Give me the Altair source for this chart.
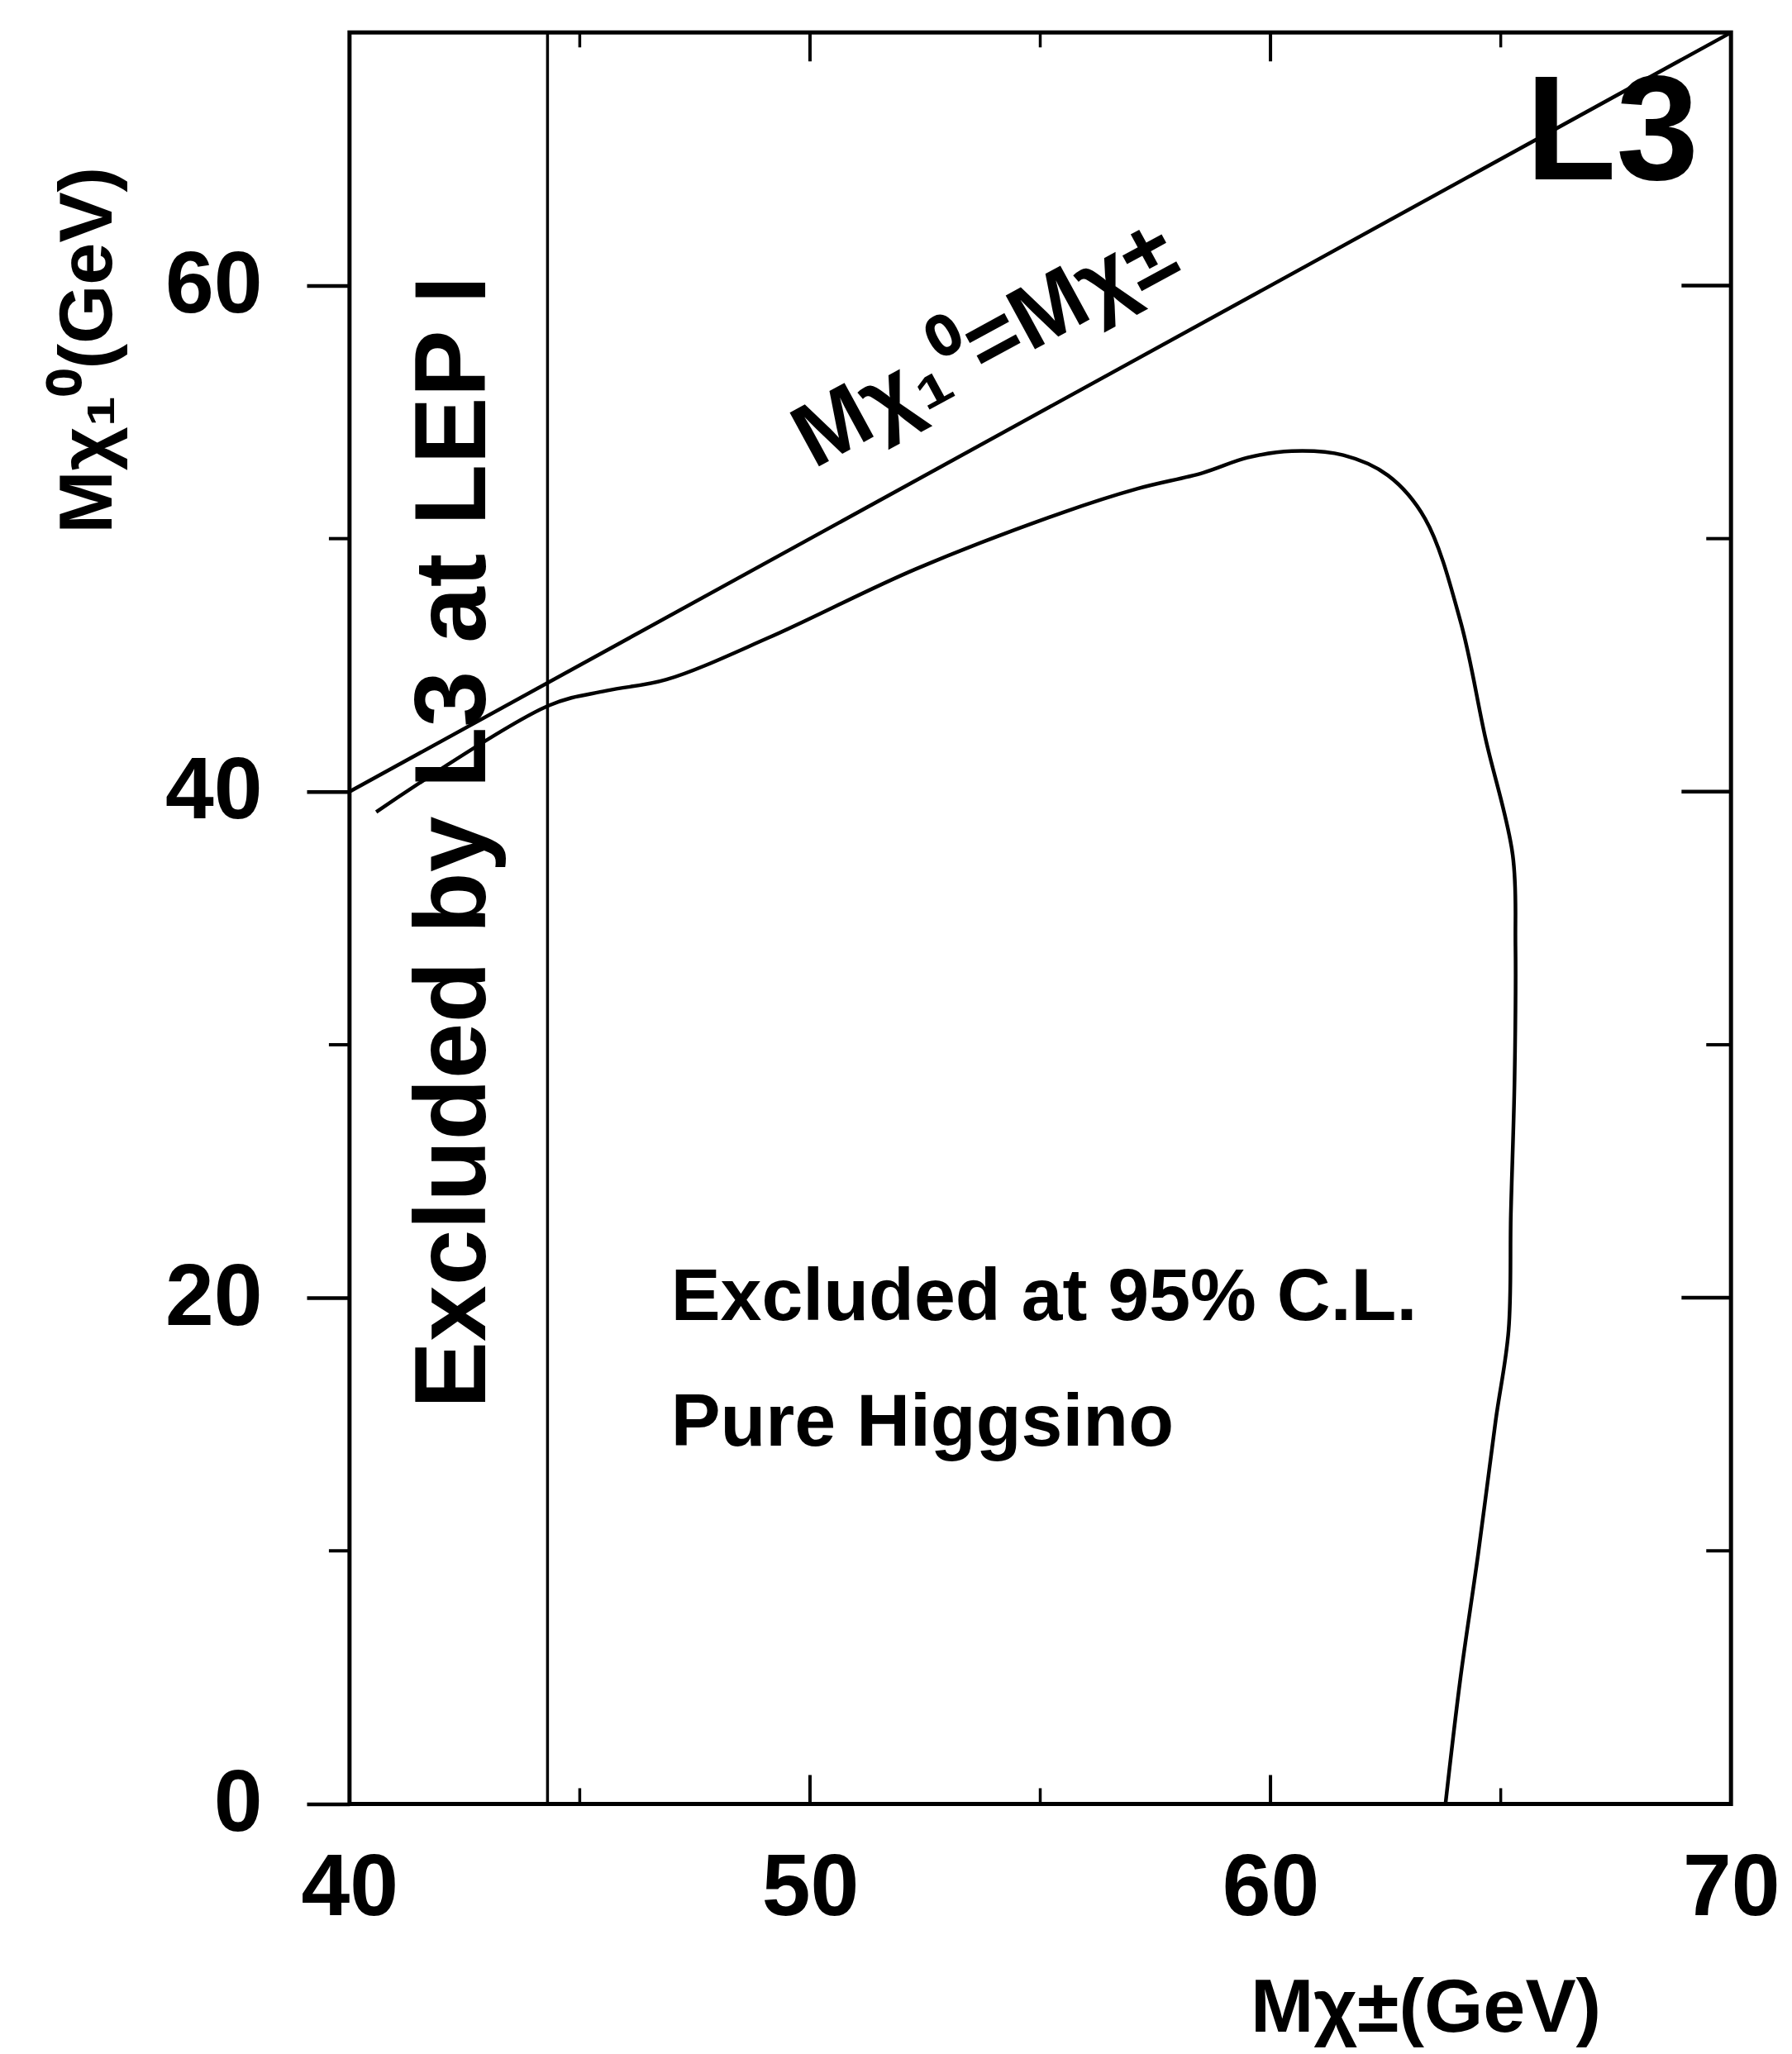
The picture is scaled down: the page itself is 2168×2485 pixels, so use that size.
import altair as alt
import pandas as pd

# ---- data ----
contour_x = [40.58, 44.32, 45.58, 46.88, 49.12, 52.3, 55.5, 57.1, 58.53, 59.5, 60.46,
             61.58, 62.55, 63.36, 64.13, 64.67, 65.26, 65.32, 65.3, 65.22, 65.17,
             64.89, 64.51, 64.12, 63.8]
contour_y = [39.2, 43.4, 43.99, 44.43, 46.1, 48.8, 51.04, 51.97, 52.6, 53.2, 53.46,
             53.3, 52.5, 50.78, 46.7, 42.1, 37.5, 33.9, 28.6, 23.3, 18.7,
             15.15, 9.88, 4.9, 0.0]
diag_x = [40, 70]
diag_y = [40, 70]
lep1_limit = [44.3]

x_labels = [40, 50, 60, 70]
y_labels = [0, 20, 40, 60]
x_major_inner = [50, 60]
x_minor_inner = [45, 55, 65]
y_major_inner = [20, 40, 60]
y_minor = [10, 30, 50]

W, H = 1676, 2149
FONT = "Liberation Sans"
XS = alt.Scale(domain=[40, 70], nice=False, zero=False)
YS = alt.Scale(domain=[0, 70], nice=False, zero=False)

X_AXIS = alt.Axis(
    values=x_labels, ticks=False, tickSize=0, labelPadding=50, labelFontSize=106,
    labelFont=FONT, labelFontWeight="bold", labelColor="black", labelFlush=False,
    labelOverlap=False, domain=False, grid=False,
    title="Mχ±(GeV)", titleFont=FONT, titleFontSize=92, titleFontWeight="bold",
    titleColor="black", titleX=1518, titleY=276, titleAlign="right",
    titleBaseline="alphabetic", titleAngle=0)
Y_AXIS = alt.Axis(
    values=y_labels, tickSize=52, tickWidth=4.5, tickColor="black", labelPadding=54,
    labelFontSize=106, labelFont=FONT, labelFontWeight="bold", labelColor="black",
    labelFlush=False, labelOverlap=False, domain=False, grid=False,
    title="Mχ₁⁰(GeV)", titleFont=FONT, titleFontSize=92, titleFontWeight="bold",
    titleColor="black", titleAngle=270, titleX=-289, titleY=385,
    titleAlign="center", titleBaseline="alphabetic")


def X(field):
    return alt.X(field, scale=XS, axis=X_AXIS)


def Y(field):
    return alt.Y(field, scale=YS, axis=Y_AXIS)


contour = pd.DataFrame({"x": contour_x, "y": contour_y, "i": range(len(contour_x))})
diag = pd.DataFrame({"x": diag_x, "y": diag_y, "i": [0, 1]})

main = alt.Chart(contour).mark_line(color="black", strokeWidth=4.5, interpolate="catmull-rom").encode(
    x=X("x:Q"), y=Y("y:Q"), order="i:Q")

diag_line = alt.Chart(diag).mark_line(color="black", strokeWidth=4.5).encode(
    x=X("x:Q"), y=Y("y:Q"), order="i:Q")

vline = alt.Chart(pd.DataFrame({"x": lep1_limit})).mark_rule(color="black", strokeWidth=3.5).encode(
    x=X("x:Q"))


def xticks(vals, y0, y1, w):
    return alt.Chart(pd.DataFrame({"x": vals})).mark_rule(color="black", strokeWidth=w).encode(
        x=X("x:Q"), y=alt.value(y0), y2=alt.value(y1))


def yticks(vals, x0, x1, w):
    return alt.Chart(pd.DataFrame({"y": vals})).mark_rule(color="black", strokeWidth=w).encode(
        y=Y("y:Q"), x=alt.value(x0), x2=alt.value(x1))


ticks = [
    xticks(x_major_inner, H, H - 35, 4),
    xticks(x_minor_inner, H, H - 19, 3.5),
    xticks(x_major_inner, 0, 35, 4),
    xticks(x_minor_inner, 0, 18, 3.5),
    yticks(y_major_inner, W, W - 60, 4.5),
    yticks(y_minor, W, W - 30, 4),
    yticks(y_minor, 0, -25, 4),
]


def label(text, x, y, size, angle=0, align="left", baseline="alphabetic"):
    df = pd.DataFrame({"x": [x], "y": [y], "t": [text]})
    return alt.Chart(df).mark_text(
        font=FONT, fontWeight="bold", fontSize=size, angle=angle, align=align,
        baseline=baseline, color="black").encode(x=X("x:Q"), y=Y("y:Q"), text="t:N")


texts = [
    label("L3", 69.3, 64.2, 180, align="right"),
    label("Mχ₁⁰=Mχ±", 54.09, 56.7, 108, angle=331.5, align="center"),
    label("Excluded by L3 at LEP I", 42.95, 38.0, 122, angle=270, align="center"),
    label("Excluded at 95% C.L.", 46.98, 19.12, 90),
    label("Pure Higgsino", 46.98, 14.17, 90),
]

chart = alt.layer(main, diag_line, vline, *ticks, *texts).properties(
    width=W, height=H,
    autosize=alt.AutoSizeParams(type="none"),
    padding={"left": 416, "top": 28, "right": 66, "bottom": 298},
    background="white",
).configure_view(stroke="black", strokeWidth=5)

chart.save("out.html", embed_options={"renderer": "svg", "actions": False})
